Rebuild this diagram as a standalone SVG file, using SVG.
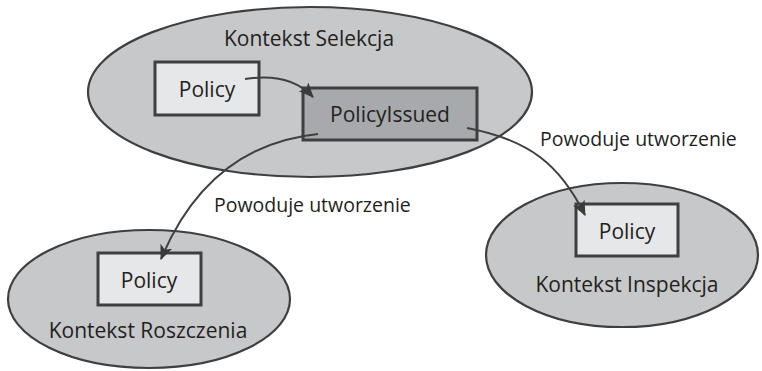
<svg xmlns="http://www.w3.org/2000/svg" width="762" height="371" viewBox="0 0 762 371">
<style>
.ctx{fill:#c7c8ca;stroke:#3f3f3f;stroke-width:2.2}
.box{fill:#e6e7e8;stroke:#3f3f3f;stroke-width:3}
.evt{fill:#a7a9ac;stroke:#3f3f3f;stroke-width:3}
text{font-family:"Open Sans","Noto Sans",sans-serif;fill:#231f20}
.t{font-size:21px;text-anchor:middle}
.l{font-size:19.5px}
.c{fill:none;stroke:#404040;stroke-width:2;marker-end:url(#ah)}
</style>
<defs>
<marker id="ah" viewBox="0 0 15 13" refX="14" refY="6.5" markerWidth="15" markerHeight="13" markerUnits="userSpaceOnUse" orient="auto">
<path d="M0,0 L15,6.5 L0,13 L4,6.5 Z" fill="#3a3a3a"/>
</marker>
</defs>
<rect width="762" height="371" fill="#ffffff"/>
<g id="ctx-selekcja">
<ellipse class="ctx" cx="310" cy="92" rx="222" ry="85"/>
<text class="t" x="309" y="46">Kontekst Selekcja</text>
</g>
<g id="policy-selekcja">
<rect class="box" x="155" y="62" width="104" height="53"/>
<text class="t" x="207" y="97">Policy</text>
</g>
<g id="policy-issued">
<rect class="evt" x="303" y="88" width="174" height="52"/>
<text class="t" x="390" y="122">PolicyIssued</text>
</g>
<g id="ctx-roszczenia">
<ellipse class="ctx" cx="149" cy="299" rx="141" ry="69"/>
<rect class="box" x="98" y="253" width="103" height="52"/>
<text class="t" x="149" y="288">Policy</text>
<text class="t" x="148" y="338">Kontekst Roszczenia</text>
</g>
<g id="ctx-inspekcja">
<ellipse class="ctx" cx="622" cy="255" rx="136" ry="72"/>
<rect class="box" x="576" y="204" width="102" height="52"/>
<text class="t" x="627" y="239">Policy</text>
<text class="t" x="627" y="292">Kontekst Inspekcja</text>
</g>
<g id="connectors">
<path class="c" d="M245,79 Q290,72 313,97"/>
<path class="c" d="M318,134 C240,142 190,190 161,259"/>
<path class="c" d="M467,128 C530,140 560,165 585,215"/>
<text class="l" x="540" y="146">Powoduje utworzenie</text>
<text class="l" x="214" y="212">Powoduje utworzenie</text>
</g>
</svg>
